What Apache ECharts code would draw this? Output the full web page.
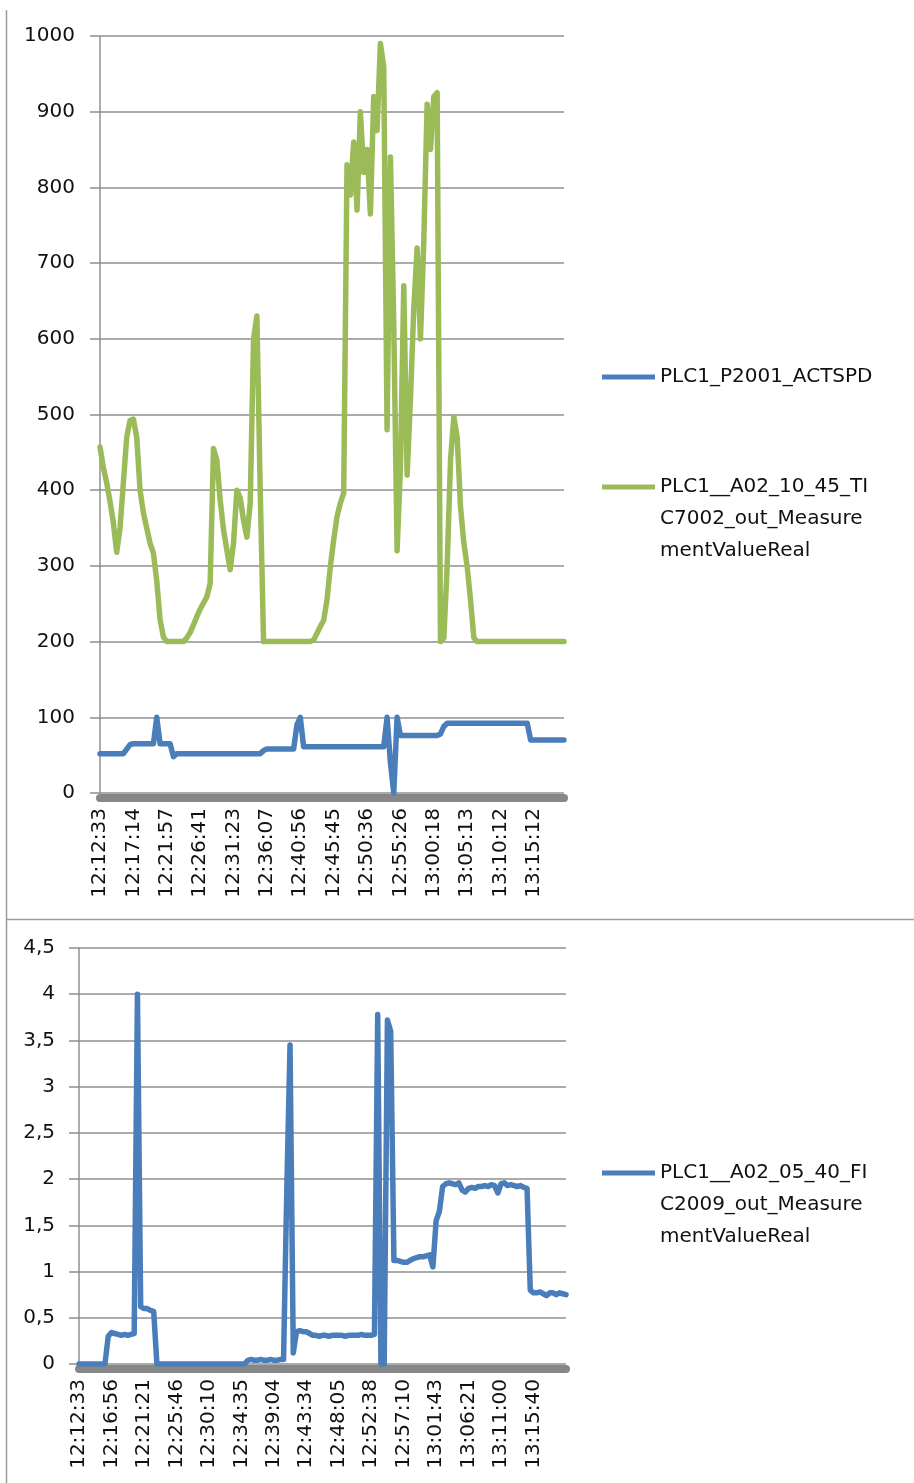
<!DOCTYPE html>
<html>
<head>
<meta charset="utf-8">
<script src="https://cdn.jsdelivr.net/npm/echarts@6/dist/echarts.min.js"></script>
<style>
  html, body { margin: 0; padding: 0; background: #ffffff; }
  #chart { width: 914px; height: 1483px; }
</style>
</head>
<body>
<div id="chart"></div>
<script>
// ---- Upper panel: pump speed and temperature ----
const upperTickLabels = ['12:12:33', '12:17:14', '12:21:57', '12:26:41', '12:31:23', '12:36:07', '12:40:56',
  '12:45:45', '12:50:36', '12:55:26', '13:00:18', '13:05:13', '13:10:12', '13:15:12'];

const upperNames = ['PLC1_P2001_ACTSPD', 'PLC1__A02_10_45_TIC7002_out_MeasurementValueReal'];

const upperSpeed = [
  52, 52, 52, 52, 52, 52, 52, 52, 58, 64,
  65, 65, 65, 65, 65, 65, 65, 100, 65, 65,
  65, 65, 48, 52, 52, 52, 52, 52, 52, 52,
  52, 52, 52, 52, 52, 52, 52, 52, 52, 52,
  52, 52, 52, 52, 52, 52, 52, 52, 52, 56,
  58, 58, 58, 58, 58, 58, 58, 58, 58, 90,
  100, 61, 61, 61, 61, 61, 61, 61, 61, 61,
  61, 61, 61, 61, 61, 61, 61, 61, 61, 61,
  61, 61, 61, 61, 61, 61, 100, 40, 0, 100,
  76, 76, 76, 76, 76, 76, 76, 76, 76, 76,
  76, 76, 78, 88, 92, 92, 92, 92, 92, 92,
  92, 92, 92, 92, 92, 92, 92, 92, 92, 92,
  92, 92, 92, 92, 92, 92, 92, 92, 92, 70,
  70, 70, 70, 70, 70, 70, 70, 70, 70, 70
];

const upperTemp = [
  457, 430, 410, 385, 357, 318, 350, 410, 470, 492,
  494, 470, 400, 370, 350, 330, 317, 280, 229, 206,
  200, 200, 200, 200, 200, 200, 205, 212, 222, 233,
  243, 251, 259, 277, 455, 440, 387, 348, 321, 295,
  330, 400, 390, 360, 338, 383, 600, 630, 400, 200,
  200, 200, 200, 200, 200, 200, 200, 200, 200, 200,
  200, 200, 200, 200, 202, 211, 220, 228, 255, 299,
  334, 365, 383, 396, 830, 790, 860, 770, 900, 820,
  850, 765, 920, 875, 990, 960, 480, 840, 620, 320,
  430, 670, 420, 520, 640, 720, 600, 730, 910, 850,
  920, 925, 200, 205, 300, 440, 497, 470, 378, 330,
  299, 255, 205, 200, 200, 200, 200, 200, 200, 200,
  200, 200, 200, 200, 200, 200, 200, 200, 200, 200,
  200, 200, 200, 200, 200, 200, 200, 200, 200, 200
];

// ---- Lower panel: flow ----
const lowerTickLabels = ['12:12:33', '12:16:56', '12:21:21', '12:25:46', '12:30:10', '12:34:35', '12:39:04',
  '12:43:34', '12:48:05', '12:52:38', '12:57:10', '13:01:43', '13:06:21', '13:11:00', '13:15:40'];

const lowerNames = ['PLC1__A02_05_40_FIC2009_out_MeasurementValueReal'];

const lowerFlow = [
  0, 0, 0, 0, 0, 0, 0, 0, 0, 0.30,
  0.34, 0.33, 0.32, 0.31, 0.32, 0.31, 0.32, 0.33, 4.0, 0.62,
  0.60, 0.60, 0.58, 0.57, 0, 0, 0, 0, 0, 0,
  0, 0, 0, 0, 0, 0, 0, 0, 0, 0,
  0, 0, 0, 0, 0, 0, 0, 0, 0, 0,
  0, 0, 0.04, 0.05, 0.04, 0.04, 0.05, 0.04, 0.04, 0.05,
  0.04, 0.04, 0.05, 0.05, 1.88, 3.45, 0.12, 0.35, 0.36, 0.35,
  0.35, 0.33, 0.31, 0.31, 0.30, 0.31, 0.31, 0.30, 0.31, 0.31,
  0.31, 0.31, 0.30, 0.31, 0.31, 0.31, 0.31, 0.32, 0.31, 0.31,
  0.31, 0.32, 3.78, 0, 0, 3.72, 3.60, 1.12, 1.12, 1.11,
  1.10, 1.10, 1.12, 1.14, 1.15, 1.16, 1.16, 1.17, 1.18, 1.05,
  1.55, 1.65, 1.92, 1.95, 1.96, 1.95, 1.94, 1.96, 1.88, 1.86,
  1.90, 1.91, 1.90, 1.92, 1.92, 1.93, 1.92, 1.94, 1.93, 1.85,
  1.95, 1.96, 1.93, 1.94, 1.93, 1.92, 1.93, 1.91, 1.90, 0.80,
  0.77, 0.77, 0.78, 0.76, 0.74, 0.77, 0.77, 0.75, 0.77, 0.76,
  0.75
];

// one tick label every this many samples
const SAMPLES_PER_TICK = 10;

const FONT = 'DejaVu Sans';
const TEXT = '#111111';
const GRID_GRAY = '#8f8f8f';
const BAND_GRAY = '#878787';
const BLUE = '#4A7EBB';
const GREEN = '#9BBB59';

function categoriesFor(tickLabels, count) {
  return Array.from({ length: count }, (_, i) =>
    i % SAMPLES_PER_TICK === 0 ? (tickLabels[i / SAMPLES_PER_TICK] || '') : '');
}

// Long tag names wrap onto three lines in the legend; two leading blank
// lines keep the first line level with the legend swatch.
function wrapName(name) {
  if (name.length <= 18) return name;
  return '\n\n' + name.slice(0, 18) + '\n' + name.slice(18, 35) + '\n' + name.slice(35);
}

function xAxisFor(gridIndex, tickLabels, count) {
  return {
    type: 'category',
    gridIndex: gridIndex,
    data: categoriesFor(tickLabels, count),
    boundaryGap: false,
    offset: 5,
    axisLine: { show: true, onZero: false, lineStyle: { color: BAND_GRAY, width: 8 } },
    axisTick: { show: false },
    axisLabel: {
      interval: SAMPLES_PER_TICK - 1,
      rotate: 90,
      margin: 10,
      fontFamily: FONT,
      fontSize: 20,
      color: TEXT
    },
    splitLine: { show: false }
  };
}

function yAxisFor(gridIndex, max, interval, margin, formatter) {
  return {
    type: 'value',
    gridIndex: gridIndex,
    min: 0,
    max: max,
    interval: interval,
    axisLine: { show: true, lineStyle: { color: GRID_GRAY, width: 1.5 } },
    axisTick: { show: true, length: 10, lineStyle: { color: GRID_GRAY, width: 1.5 } },
    axisLabel: { margin: margin, fontFamily: FONT, fontSize: 20, color: TEXT, formatter: formatter },
    splitLine: { show: true, lineStyle: { color: GRID_GRAY, width: 1.5 } }
  };
}

function lineSeries(name, xIndex, yIndex, data, color) {
  return {
    name: name,
    type: 'line',
    xAxisIndex: xIndex,
    yAxisIndex: yIndex,
    data: data,
    symbol: 'none',
    showSymbol: false,
    color: color,
    itemStyle: { color: color },
    lineStyle: { color: color, width: 5.5, cap: 'round', join: 'round' }
  };
}

function legendFor(name, top) {
  return {
    data: [name],
    left: 602,
    top: top,
    orient: 'vertical',
    padding: 0,
    itemWidth: 53,
    itemHeight: 5,
    icon: 'rect',
    selectedMode: false,
    formatter: wrapName,
    textStyle: { fontFamily: FONT, fontSize: 20, color: TEXT, lineHeight: 32 }
  };
}

const chart = echarts.init(document.getElementById('chart'), null, { renderer: 'canvas' });

chart.setOption({
  animation: false,
  backgroundColor: '#ffffff',
  grid: [
    { left: 100, top: 36, width: 464, height: 757 },
    { left: 79, top: 948, width: 487, height: 416 }
  ],
  xAxis: [
    xAxisFor(0, upperTickLabels, upperTemp.length),
    xAxisFor(1, lowerTickLabels, lowerFlow.length)
  ],
  yAxis: [
    yAxisFor(0, 1000, 100, 25, v => String(v)),
    yAxisFor(1, 4.5, 0.5, 24, v => String(v).replace('.', ','))
  ],
  legend: [
    legendFor(upperNames[0], 361),
    legendFor(upperNames[1], 407),
    legendFor(lowerNames[0], 1093)
  ],
  series: [
    lineSeries(upperNames[0], 0, 0, upperSpeed, BLUE),
    lineSeries(upperNames[1], 0, 0, upperTemp, GREEN),
    lineSeries(lowerNames[0], 1, 1, lowerFlow, BLUE)
  ],
  graphic: [
    { type: 'line', silent: true, shape: { x1: 6.5, y1: 10, x2: 6.5, y2: 1483 },
      style: { stroke: '#9a9a9a', lineWidth: 1.5 } },
    { type: 'line', silent: true, shape: { x1: 6, y1: 919.5, x2: 914, y2: 919.5 },
      style: { stroke: '#9a9a9a', lineWidth: 1.5 } }
  ]
});
</script>
</body>
</html>
